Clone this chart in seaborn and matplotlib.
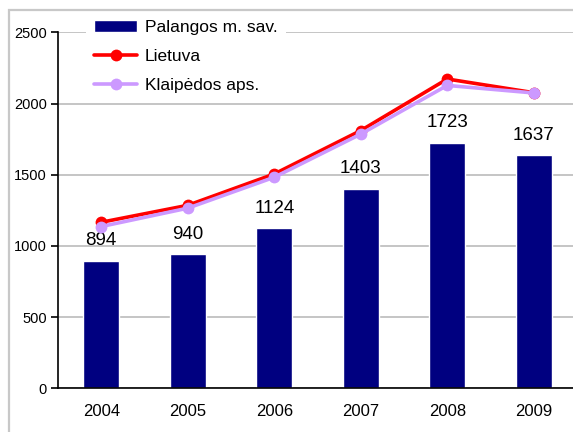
import numpy as np
import matplotlib
matplotlib.use("Agg")
import matplotlib.pyplot as plt
import seaborn as sns
from matplotlib.patches import Rectangle

years = ["2004", "2005", "2006", "2007", "2008", "2009"]
palanga = [894, 940, 1124, 1403, 1723, 1637]
lietuva = [1166, 1285, 1505, 1810, 2172, 2076]
klaipeda = [1136, 1265, 1482, 1785, 2127, 2074]

sns.set_style("white")
plt.rcParams["font.family"] = ["Liberation Sans", "DejaVu Sans"]
plt.rcParams["text.color"] = "black"

fig = plt.figure(figsize=(5.73, 4.32), dpi=100)
ax = fig.add_axes([58 / 573, 1 - 388.3 / 432, 519 / 573, 356 / 432])

# outer chart frame (Excel style)
fig.patches.append(Rectangle((8.5 / 573, -0.1), 1.2, 1 - 10.5 / 432 + 0.1,
                             transform=fig.transFigure, fill=False,
                             edgecolor="#c8c8c8", linewidth=1.6))

sns.barplot(x=years, y=palanga, color="#000080", width=0.42, saturation=1,
            ax=ax, label="Palangos m. sav.", zorder=2)

pos = np.arange(len(years))
sns.lineplot(x=pos, y=lietuva, color="#ff0000", marker="o", markersize=8.5,
             markeredgewidth=0, linewidth=2.6, ax=ax, label="Lietuva", zorder=3)
sns.lineplot(x=pos, y=klaipeda, color="#cc99ff", marker="o", markersize=8.5,
             markeredgewidth=0, linewidth=2.6, ax=ax, label="Klaipėdos aps.", zorder=4)

for i, v in enumerate(palanga):
    ax.annotate(str(v), (i, v), xytext=(0, 14.5), textcoords="offset points",
                ha="center", va="center", fontsize=13.5, color="black")

ax.set_xlim(-0.5, 5.5)
ax.set_ylim(0, 2500)
ax.set_yticks([0, 500, 1000, 1500, 2000, 2500])
ax.yaxis.grid(True, color="#c0c0c0", linewidth=1.3, zorder=0)
ax.set_axisbelow(True)

ax.set_xticks(pos)
ax.set_xticklabels(years, fontsize=12)
ax.set_xticks(np.arange(0.5, 5.5, 1), minor=True)
ax.tick_params(axis="x", which="major", length=0, pad=11, labelcolor="black")
ax.tick_params(axis="x", which="minor", length=5, width=1.2, color="black", direction="out")
ax.tick_params(axis="y", length=5, width=1.2, color="black", direction="out",
               labelsize=10.5, pad=3, left=True, labelcolor="black")

for side in ["top", "right"]:
    ax.spines[side].set_visible(False)
for side in ["left", "bottom"]:
    ax.spines[side].set_color("black")
    ax.spines[side].set_linewidth(1.2)

ax.set_xlabel("")
ax.set_ylabel("")

handles, labels = ax.get_legend_handles_labels()
order = [labels.index("Palangos m. sav."), labels.index("Lietuva"), labels.index("Klaipėdos aps.")]
leg = ax.legend([handles[i] for i in order], [labels[i] for i in order],
                loc="upper left", bbox_to_anchor=(86 / 573, 1 - 12 / 432),
                bbox_transform=fig.transFigure, fontsize=12.5, frameon=True,
                fancybox=False, framealpha=1, facecolor="white", edgecolor="none",
                handlelength=2.5, handletextpad=0.45, labelspacing=0.8,
                borderpad=0.45, borderaxespad=0, labelcolor="black")
leg.set_zorder(10)

fig.savefig("out.png", dpi=100)
